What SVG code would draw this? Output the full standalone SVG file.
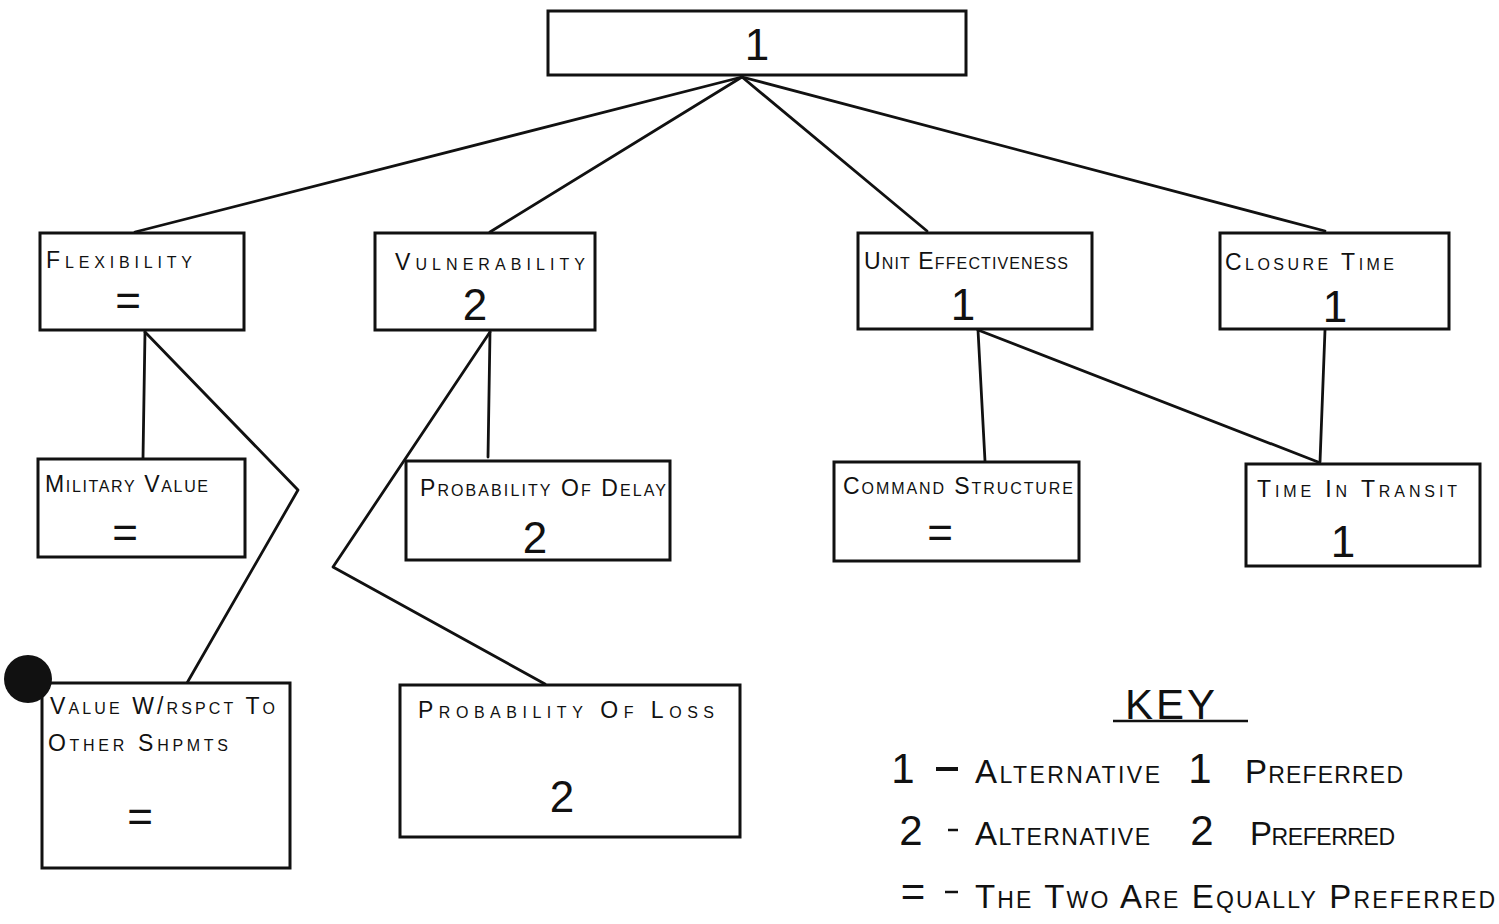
<svg xmlns="http://www.w3.org/2000/svg" width="1499" height="924" viewBox="0 0 1499 924">
  <style>
    .box { fill: #fff; stroke: #111; stroke-width: 3; }
    .wire { fill: none; stroke: #111; stroke-width: 2.8; stroke-linecap: round; stroke-linejoin: round; }
    .lbl { font-family: "Liberation Sans", "DejaVu Sans", sans-serif; font-size: 23px; font-variant: small-caps; fill: #111; }
    .val { font-family: "Liberation Sans", "DejaVu Sans", sans-serif; font-size: 44px; fill: #111; text-anchor: middle; }
    .key { font-family: "Liberation Sans", "DejaVu Sans", sans-serif; font-size: 33px; font-variant: small-caps; fill: #111; }
    .knum { font-family: "Liberation Sans", "DejaVu Sans", sans-serif; font-size: 42px; fill: #111; text-anchor: middle; }
  </style>

  <!-- connectors -->
  <g id="connectors">
    <line class="wire" x1="742" y1="77" x2="135" y2="232"/>
    <line class="wire" x1="742" y1="77" x2="490" y2="232"/>
    <line class="wire" x1="742" y1="77" x2="927" y2="231"/>
    <line class="wire" x1="742" y1="77" x2="1325" y2="231"/>
    <line class="wire" x1="145" y1="332" x2="143" y2="458"/>
    <polyline class="wire" points="145,332 298,490 187,683"/>
    <line class="wire" x1="490" y1="332" x2="488" y2="457"/>
    <polyline class="wire" points="490,332 333,567 545,684"/>
    <line class="wire" x1="978" y1="330" x2="985" y2="461"/>
    <line class="wire" x1="978" y1="330" x2="1318" y2="462"/>
    <line class="wire" x1="1325" y1="330" x2="1320" y2="462"/>
  </g>

  <g id="root">
    <rect class="box" x="548" y="11" width="418" height="64"/>
    <text class="val" x="757" y="60">1</text>
  </g>

  <g id="flexibility">
    <rect class="box" x="40" y="233" width="204" height="97"/>
    <text class="lbl" x="46" y="268" textLength="146" lengthAdjust="spacing">Flexibility</text>
    <text class="val" x="128" y="316">=</text>
  </g>

  <g id="vulnerability">
    <rect class="box" x="375" y="233" width="220" height="97"/>
    <text class="lbl" x="395" y="270" textLength="190" lengthAdjust="spacing">Vulnerability</text>
    <text class="val" x="475" y="320">2</text>
  </g>

  <g id="unit-effectiveness">
    <rect class="box" x="858" y="233" width="234" height="96"/>
    <text class="lbl" x="864" y="269" textLength="204" lengthAdjust="spacing">Unit Effectiveness</text>
    <text class="val" x="963" y="320">1</text>
  </g>

  <g id="closure-time">
    <rect class="box" x="1220" y="233" width="229" height="96"/>
    <text class="lbl" x="1225" y="270" textLength="169" lengthAdjust="spacing">Closure  Time</text>
    <text class="val" x="1335" y="322">1</text>
  </g>

  <g id="military-value">
    <rect class="box" x="38" y="459" width="207" height="98"/>
    <text class="lbl" x="45" y="492" textLength="163" lengthAdjust="spacing">Military Value</text>
    <text class="val" x="125" y="548">=</text>
  </g>

  <g id="probability-of-delay">
    <rect class="box" x="406" y="461" width="264" height="99"/>
    <text class="lbl" x="420" y="496" textLength="246" lengthAdjust="spacing">Probability Of Delay</text>
    <text class="val" x="535" y="553">2</text>
  </g>

  <g id="command-structure">
    <rect class="box" x="834" y="462" width="245" height="99"/>
    <text class="lbl" x="843" y="494" textLength="230" lengthAdjust="spacing">Command  Structure</text>
    <text class="val" x="940" y="548">=</text>
  </g>

  <g id="time-in-transit">
    <rect class="box" x="1246" y="464" width="234" height="102"/>
    <text class="lbl" x="1257" y="497" textLength="200" lengthAdjust="spacing">Time In Transit</text>
    <text class="val" x="1343" y="557">1</text>
  </g>

  <g id="value-other-shipments">
    <rect class="box" x="42" y="683" width="248" height="185"/>
    <text class="lbl" x="50" y="714" textLength="225" lengthAdjust="spacing">Value W/rspct To</text>
    <text class="lbl" x="48" y="751" textLength="180" lengthAdjust="spacing">Other Shpmts</text>
    <text class="val" x="140" y="832">=</text>
    <circle cx="28" cy="679" r="24" fill="#111"/>
  </g>

  <g id="probability-of-loss">
    <rect class="box" x="400" y="685" width="340" height="152"/>
    <text class="lbl" x="418" y="718" textLength="296" lengthAdjust="spacing">Probability  Of  Loss</text>
    <text class="val" x="562" y="812">2</text>
  </g>

  <!-- legend -->
  <g id="key">
    <text class="knum" x="1170" y="719" textLength="90" lengthAdjust="spacing">KEY</text>
    <line x1="1113" y1="721" x2="1248" y2="721" stroke="#111" stroke-width="2.5"/>

    <text class="knum" x="903" y="783">1</text>
    <line x1="936" y1="769" x2="958" y2="769" stroke="#111" stroke-width="4"/>
    <text class="key" x="975" y="783" textLength="185" lengthAdjust="spacing">Alternative</text>
    <text class="knum" x="1200" y="783">1</text>
    <text class="key" x="1245" y="783" textLength="158" lengthAdjust="spacing">Preferred</text>

    <text class="knum" x="911" y="845">2</text>
    <line x1="948" y1="830" x2="958" y2="830" stroke="#111" stroke-width="2.5"/>
    <text class="key" x="975" y="845" textLength="175" lengthAdjust="spacing">Alternative</text>
    <text class="knum" x="1202" y="845">2</text>
    <text class="key" x="1250" y="845" textLength="145" lengthAdjust="spacing">Preferred</text>

    <text class="knum" x="913" y="906">=</text>
    <line x1="945" y1="892" x2="958" y2="892" stroke="#111" stroke-width="2.5"/>
    <text class="key" x="975" y="908" textLength="520" lengthAdjust="spacing">The Two Are Equally Preferred</text>
  </g>
</svg>
